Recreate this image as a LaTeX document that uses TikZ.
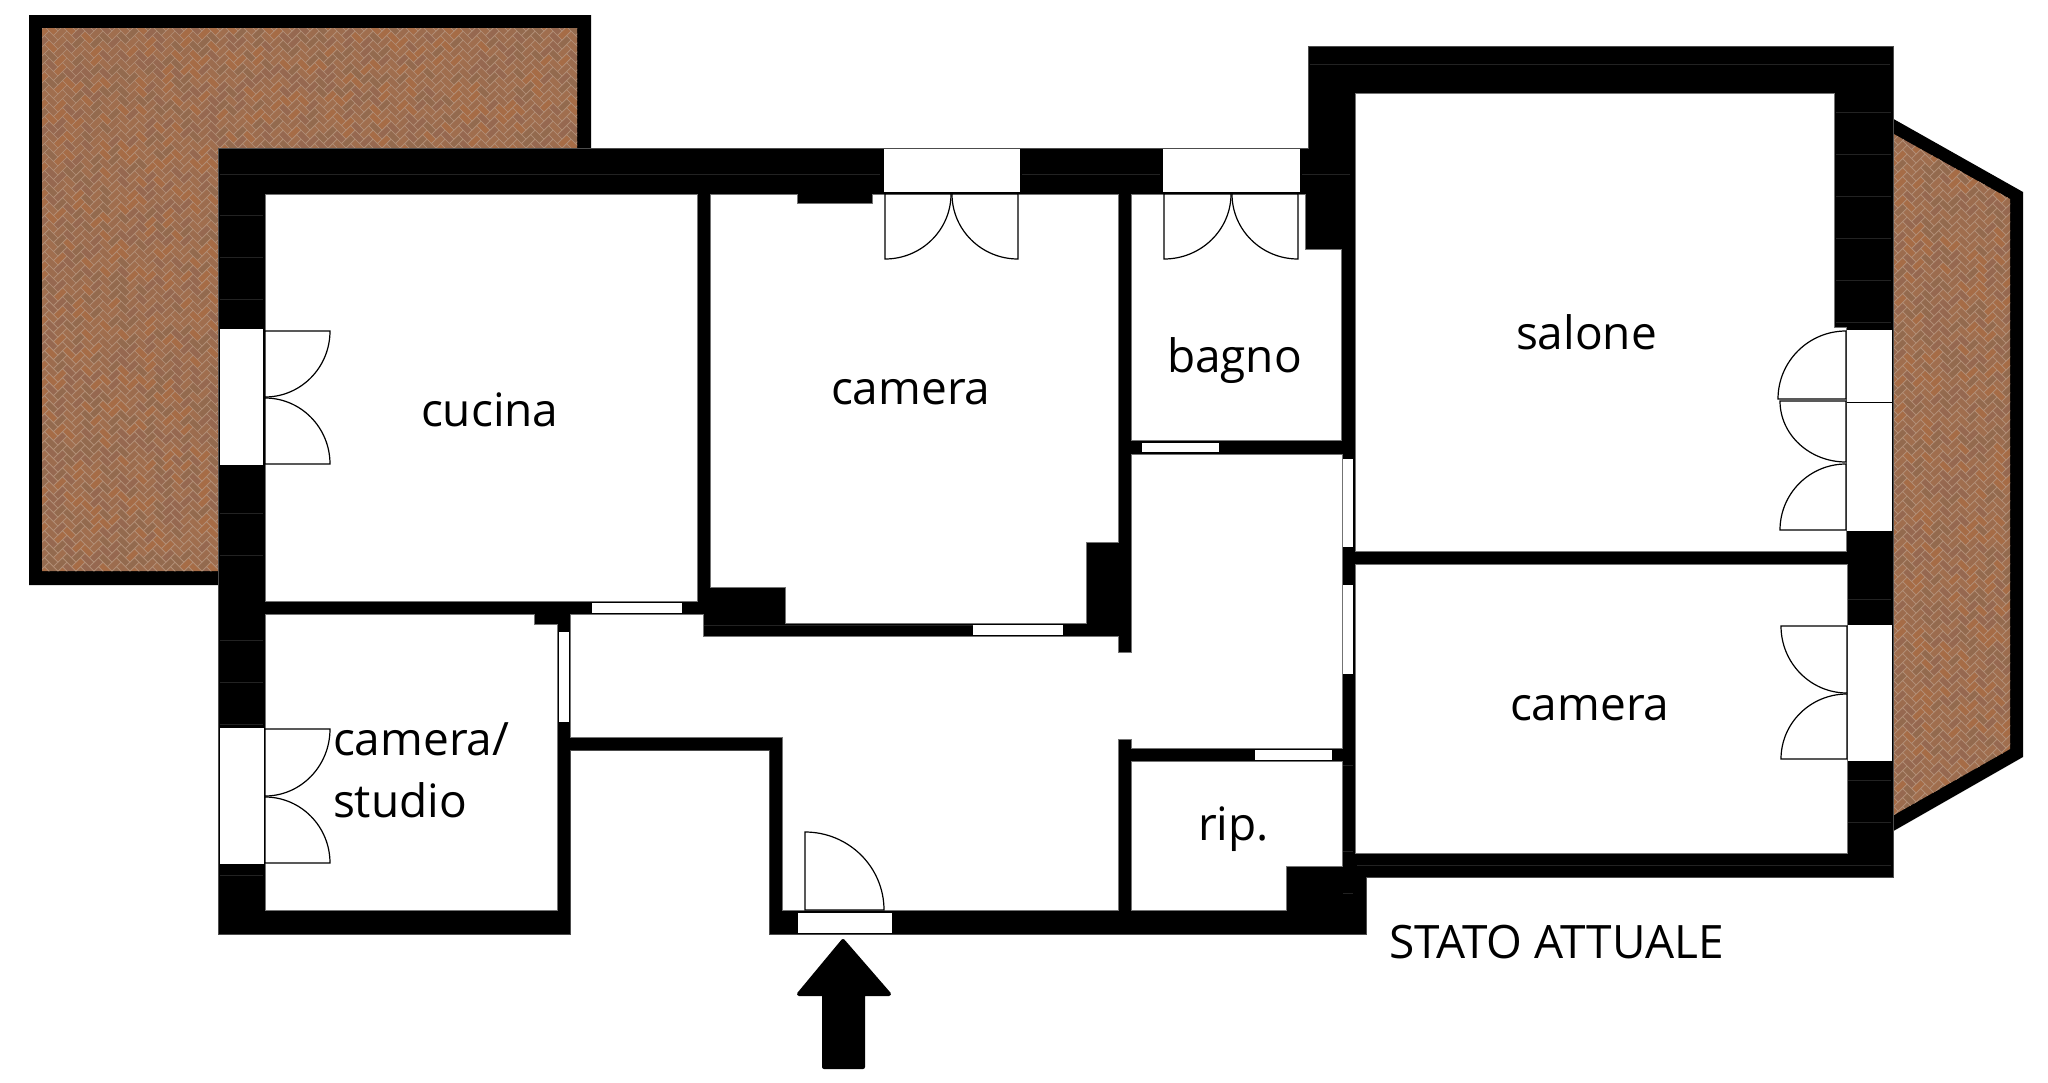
\documentclass[tikz,border=0pt]{standalone}
\usepackage{fontspec}
\setmainfont{Open Sans}
\usetikzlibrary{calc}
\definecolor{bk0}{HTML}{9C6C4E}
\definecolor{bk1}{HTML}{966850}
\definecolor{bk2}{HTML}{A06E4E}
\definecolor{bk3}{HTML}{A66C46}
\definecolor{bk4}{HTML}{936A4E}
\definecolor{mortar}{HTML}{B39078}
\definecolor{seam}{HTML}{222222}
\tikzset{
  wall/.style={fill=black,draw=black!70,line width=0.7pt},
  room/.style={fill=white,draw=black!55,line width=0.5pt},
  win/.style={fill=white,draw=none},
  leaf/.style={draw=black,line width=1.2pt,fill=white,line join=miter},
  lab/.style={anchor=base west,inner sep=0pt,outer sep=0pt,font=\fontsize{46}{46}\selectfont},
  tick/.style={draw=seam,line width=0.8pt}
}
\newcommand{\doorleaf}[6]{%
  \draw[leaf] (#1,#2) -- (#3,#4)
    .. controls ($(#3,#4)+0.5523*(#5,#6)-0.5523*(#1,#2)$)
    and ($(#5,#6)+0.5523*(#3,#4)-0.5523*(#1,#2)$) .. (#5,#6) -- cycle;}
\newcount\fb \newcount\fu \newcount\fv
\newcommand{\brickfield}[4]{%
  \begin{scope}[shift={(#1,#2)},x={(4.5pt,4.5pt)},y={(-4.5pt,4.5pt)},line width=0.7pt]
  \foreach \ca in {-#3,...,#3}{%
    \foreach \cb in {0,...,#4}{%
      \fb=\numexpr\cb-2*\ca-2\relax
      \fu=\numexpr4*\ca+\fb\relax
      \fv=\fb
      \pgfmathrandominteger\rr{0}{4}%
      \pgfmathrandominteger\rs{0}{4}%
      \edef\ux{\the\fu}\edef\vy{\the\fv}%
      \edef\uxb{\the\numexpr\fu+2}\edef\uxc{\the\numexpr\fu+3}%
      \edef\vyb{\the\numexpr\fv+1}\edef\vyc{\the\numexpr\fv-1}%
      \path[fill=bk\rr,draw=mortar] (\ux,\vy) -- (\uxb,\vy) -- (\uxb,\vyb) -- (\ux,\vyb) -- cycle;
      \path[fill=bk\rs,draw=mortar] (\uxb,\vyc) -- (\uxc,\vyc) -- (\uxc,\vyb) -- (\uxb,\vyb) -- cycle;
    }}
  \end{scope}}
\begin{document}
\begin{tikzpicture}[x=1pt,y=-1pt]
\pgfmathsetseed{7}
\useasboundingbox (0,0) rectangle (2048,1082);
\fill[white] (0,0) rectangle (2048,1082);
% terraces
\fill[black] (29,15) -- (591,15) -- (591,150) -- (240,150) -- (240,585) -- (29,585) -- cycle;
\begin{scope}
  \clip (42,28) -- (577,28) -- (577,150) -- (220,150) -- (220,571) -- (42,571) -- cycle;
  \begin{scope}[y=1pt]
    \brickfield{310}{-571}{16}{66}
  \end{scope}
\end{scope}
\fill[black] (1890,117) -- (2023,192) -- (2023,757) -- (1890,833) -- cycle;
\begin{scope}
  \clip (1892,133) -- (2010,199) -- (2010,749) -- (1892,816) -- cycle;
  \begin{scope}[y=1pt]
    \brickfield{1952}{-820}{8}{82}
  \end{scope}
\end{scope}
% building
\path[wall] (218,148) -- (1308,148) -- (1308,46) -- (1893,46) -- (1893,877) -- (1366,877) -- (1366,934) -- (769,934) -- (769,750) -- (570,750) -- (570,934) -- (218,934) -- cycle;
% joint ticks in the walls
\draw[tick] (220,174) -- (880,174) (1022,174) -- (1160,174) (1302,174) -- (1350,174);
\draw[tick] (1310,64) -- (1890,64);
\foreach \yy in {215,257,299,341,513,555,640,682,724,875}{\draw[tick] (220,\yy) -- (263,\yy);}
\foreach \yy in {112,154,196,238,280,322}{\draw[tick] (1836,\yy) -- (1891,\yy);}
\foreach \yy in {765,851,893}{\draw[tick] (1343,\yy) -- (1353,\yy);}
\draw[tick] (1848,599) -- (1891,599) (1848,780) -- (1891,780) (1848,822) -- (1891,822);
\draw[tick] (1357,865) -- (1891,865);
\draw[tick] (703,625) -- (975,625);
% rooms
\path[room] (265,194) rectangle (697,601);
\path[room] (710,194) -- (797,194) -- (797,203) -- (872,203) -- (872,194) -- (1118,194) -- (1118,542) -- (1086,542) -- (1086,623) -- (785,623) -- (785,587) -- (710,587) -- cycle;
\path[room] (1131,194) -- (1305,194) -- (1305,249) -- (1341,249) -- (1341,440) -- (1131,440) -- cycle;
\path[room] (570,614) -- (703,614) -- (703,636) -- (1118,636) -- (1118,652) -- (1131,652) -- (1131,454) -- (1342,454) -- (1342,748) -- (1131,748) -- (1131,739) -- (1118,739) -- (1118,910) -- (782,910) -- (782,737) -- (570,737) -- cycle;
\path[room] (265,614) -- (534,614) -- (534,624) -- (557,624) -- (557,910) -- (265,910) -- cycle;
\path[room] (1131,761) -- (1342,761) -- (1342,866) -- (1286,866) -- (1286,910) -- (1131,910) -- cycle;
\path[room] (1355,93) -- (1834,93) -- (1834,327) -- (1846,327) -- (1846,551) -- (1355,551) -- cycle;
\path[room] (1355,564) -- (1847,564) -- (1847,853) -- (1355,853) -- cycle;
% windows
\path[win] (220,329) rectangle (263,465);
\path[win] (220,728) rectangle (264,864);
\path[win] (884,149) rectangle (1020,192);
\path[win] (1163,149) rectangle (1300,192);
\path[win] (592,603) rectangle (682,613);
\path[win] (973,625) rectangle (1063,635);
\path[win] (1142,443) rectangle (1219,452);
\path[win] (1255,750) rectangle (1332,760);
\path[win] (559,632) rectangle (569,722);
\path[win] (1343,459) rectangle (1353,547);
\path[win] (1343,585) rectangle (1353,674);
\path[win] (1847,330) rectangle (1892,531);
\draw[black,line width=0.9pt] (1847,402) -- (1892,402);
\path[win] (1848,625) rectangle (1892,761);
\path[win,draw=black,line width=0.6pt] (797,912) rectangle (892,933);
% door leaves
\doorleaf{265}{331}{330}{331}{265}{397}
\doorleaf{265}{464}{330}{464}{265}{398}
\doorleaf{885}{194}{885}{259}{951}{194}
\doorleaf{1018}{194}{1018}{259}{952}{194}
\doorleaf{1164}{194}{1164}{259}{1231}{194}
\doorleaf{1298}{194}{1298}{259}{1232}{194}
\doorleaf{1846}{399}{1778}{399}{1846}{331}
\doorleaf{1846}{401}{1780}{401}{1846}{462}
\doorleaf{1846}{530}{1780}{530}{1846}{464}
\doorleaf{1847}{626}{1781}{626}{1847}{693}
\doorleaf{1847}{759}{1781}{759}{1847}{694}
\doorleaf{265}{729}{330}{729}{265}{796}
\doorleaf{265}{863}{330}{863}{265}{797}
\doorleaf{805}{910}{805}{832}{884}{910}
% entrance arrow
\draw[fill=black,draw=black,line width=4pt,line join=round]
  (843,941) -- (889,994) -- (863,994) -- (863,1067) -- (824,1067) -- (824,994) -- (799,994) -- cycle;
% labels
\node[lab] (cucina) at (421,426.5) {cucina};
\node[lab] (camera1) at (831,404.5) {camera};
\node[lab] (bagno) at (1167,372) {bagno};
\node[lab] (salone) at (1516,349) {salone};
\node[lab] (camera2) at (1510,720.7) {camera};
\node[lab] (rip) at (1198,840) {rip.};
\node[lab] (studio1) at (333,755) {camera/};
\node[lab] (studio2) at (333,817) {studio};
\node[lab] (stato) at (1389,958) {STATO ATTUALE};
\end{tikzpicture}
\end{document}
